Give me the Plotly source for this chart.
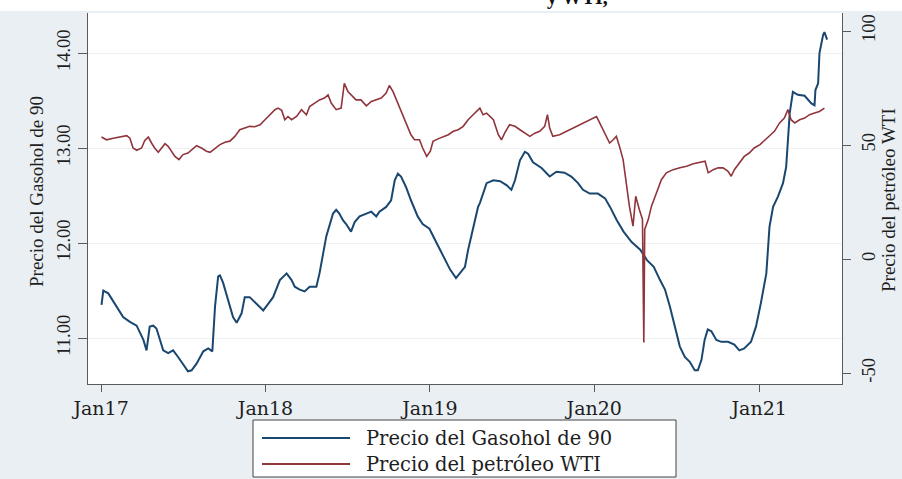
import plotly.graph_objects as go

# Precio del Gasohol de 90 (eje izquierdo)
gas_dates = [
    "2017-01-02", "2017-01-06", "2017-01-17", "2017-02-04", "2017-02-19", "2017-03-06",
    "2017-03-21", "2017-04-05", "2017-04-12", "2017-04-19", "2017-04-27", "2017-05-04",
    "2017-05-12", "2017-05-19", "2017-05-30", "2017-06-10", "2017-06-21", "2017-07-02",
    "2017-07-13", "2017-07-21", "2017-08-01", "2017-08-16", "2017-08-27", "2017-09-05",
    "2017-09-11", "2017-09-18", "2017-09-22", "2017-09-29", "2017-10-10", "2017-10-21",
    "2017-10-29", "2017-11-09", "2017-11-16", "2017-11-27", "2017-12-12", "2017-12-27",
    "2018-01-07", "2018-01-18", "2018-02-02", "2018-02-17", "2018-02-28", "2018-03-07",
    "2018-03-18", "2018-03-29", "2018-04-09", "2018-04-24", "2018-05-01", "2018-05-09",
    "2018-05-16", "2018-05-31", "2018-06-07", "2018-06-14", "2018-06-22", "2018-06-29",
    "2018-07-10", "2018-07-18", "2018-07-29", "2018-08-13", "2018-08-24", "2018-09-04",
    "2018-09-11", "2018-09-26", "2018-10-07", "2018-10-15", "2018-10-22", "2018-10-29",
    "2018-11-09", "2018-11-20", "2018-12-05", "2018-12-16", "2018-12-31", "2019-01-16",
    "2019-01-31", "2019-02-15", "2019-02-28", "2019-03-09", "2019-03-20", "2019-03-27",
    "2019-04-07", "2019-04-18", "2019-04-22", "2019-05-07", "2019-05-22", "2019-06-06",
    "2019-06-20", "2019-07-01", "2019-07-09", "2019-07-20", "2019-07-31", "2019-08-07",
    "2019-08-18", "2019-09-06", "2019-09-24", "2019-10-09", "2019-10-27", "2019-11-11",
    "2019-11-26", "2019-12-07", "2019-12-22", "2020-01-09", "2020-01-25", "2020-02-05",
    "2020-02-20", "2020-03-06", "2020-03-24", "2020-04-12", "2020-04-27", "2020-05-12",
    "2020-05-26", "2020-06-06", "2020-06-17", "2020-06-28", "2020-07-09", "2020-07-20",
    "2020-07-31", "2020-08-11", "2020-08-18", "2020-08-26", "2020-09-02", "2020-09-09",
    "2020-09-17", "2020-09-28", "2020-10-09", "2020-10-24", "2020-11-07", "2020-11-18",
    "2020-11-29", "2020-12-14", "2020-12-25", "2021-01-05", "2021-01-17", "2021-01-24",
    "2021-02-01", "2021-02-12", "2021-02-23", "2021-03-02", "2021-03-10", "2021-03-17",
    "2021-03-28", "2021-04-12", "2021-04-27", "2021-05-04", "2021-05-06", "2021-05-12",
    "2021-05-15", "2021-05-23", "2021-05-26", "2021-06-01",
]
gas_price = [
    11.35, 11.50, 11.47, 11.33, 11.22, 11.17,
    11.13, 10.98, 10.87, 11.12, 11.13, 11.10,
    10.98, 10.87, 10.84, 10.87, 10.80, 10.73,
    10.65, 10.66, 10.73, 10.86, 10.89, 10.86,
    11.33, 11.65, 11.66, 11.58, 11.40, 11.22,
    11.16, 11.26, 11.43, 11.43, 11.36, 11.29,
    11.36, 11.43, 11.61, 11.68, 11.61, 11.54,
    11.51, 11.49, 11.54, 11.54, 11.68, 11.89,
    12.07, 12.31, 12.35, 12.31, 12.24, 12.20,
    12.12, 12.22, 12.28, 12.31, 12.33, 12.28,
    12.33, 12.38, 12.45, 12.66, 12.73, 12.70,
    12.59, 12.45, 12.28, 12.20, 12.15, 12.00,
    11.86, 11.72, 11.63, 11.68, 11.75, 11.93,
    12.14, 12.38, 12.42, 12.63, 12.66, 12.65,
    12.61, 12.56, 12.66, 12.87, 12.96, 12.94,
    12.85, 12.79, 12.70, 12.75, 12.74, 12.70,
    12.63, 12.56, 12.52, 12.52, 12.47, 12.38,
    12.24, 12.12, 12.01, 11.93, 11.82, 11.75,
    11.61, 11.51, 11.33, 11.12, 10.91, 10.80,
    10.75, 10.66, 10.66, 10.77, 10.98, 11.09,
    11.07, 10.98, 10.96, 10.96, 10.93, 10.87,
    10.89, 10.96, 11.12, 11.37, 11.68, 12.17,
    12.38, 12.49, 12.63, 12.80, 13.37, 13.59,
    13.56, 13.55, 13.47, 13.45, 13.61, 13.68,
    14.00, 14.19, 14.22, 14.14,
]

# Precio del petróleo WTI (eje derecho)
wti_dates = [
    "2017-01-02", "2017-01-13", "2017-01-28", "2017-02-12", "2017-02-27", "2017-03-06",
    "2017-03-13", "2017-03-21", "2017-04-01", "2017-04-08", "2017-04-16", "2017-04-23",
    "2017-04-30", "2017-05-08", "2017-05-15", "2017-05-23", "2017-05-30", "2017-06-06",
    "2017-06-14", "2017-06-23", "2017-07-02", "2017-07-13", "2017-07-25", "2017-08-01",
    "2017-08-12", "2017-08-23", "2017-08-31", "2017-09-11", "2017-09-22", "2017-10-03",
    "2017-10-14", "2017-10-25", "2017-11-05", "2017-11-16", "2017-11-27", "2017-12-08",
    "2017-12-20", "2017-12-31", "2018-01-11", "2018-01-22", "2018-01-29", "2018-02-06",
    "2018-02-13", "2018-02-20", "2018-02-28", "2018-03-11", "2018-03-22", "2018-04-02",
    "2018-04-09", "2018-04-20", "2018-05-01", "2018-05-12", "2018-05-20", "2018-05-27",
    "2018-06-07", "2018-06-18", "2018-06-25", "2018-07-03", "2018-07-14", "2018-07-21",
    "2018-08-01", "2018-08-13", "2018-08-24", "2018-09-04", "2018-09-15", "2018-09-26",
    "2018-10-03", "2018-10-11", "2018-10-22", "2018-11-02", "2018-11-13", "2018-11-20",
    "2018-11-28", "2018-12-09", "2018-12-16", "2018-12-25", "2019-01-02", "2019-01-08",
    "2019-01-19", "2019-01-31", "2019-02-11", "2019-02-22", "2019-03-05", "2019-03-16",
    "2019-03-27", "2019-04-07", "2019-04-18", "2019-04-22", "2019-04-29", "2019-05-07",
    "2019-05-22", "2019-06-02", "2019-06-09", "2019-06-16", "2019-06-27", "2019-07-09",
    "2019-07-20", "2019-07-31", "2019-08-11", "2019-08-22", "2019-09-02", "2019-09-13",
    "2019-09-19", "2019-09-24", "2019-10-01", "2019-10-16", "2019-10-31", "2019-11-14",
    "2019-11-29", "2019-12-14", "2019-12-29", "2020-01-06", "2020-01-13", "2020-01-24",
    "2020-02-04", "2020-02-12", "2020-02-19", "2020-02-26", "2020-03-05", "2020-03-12",
    "2020-03-19", "2020-03-27", "2020-04-02", "2020-04-10", "2020-04-17", "2020-04-20",
    "2020-04-22", "2020-04-30", "2020-05-07", "2020-05-18", "2020-05-29", "2020-06-09",
    "2020-06-24", "2020-07-09", "2020-07-24", "2020-08-08", "2020-08-23", "2020-09-03",
    "2020-09-10", "2020-09-21", "2020-10-02", "2020-10-13", "2020-10-24", "2020-10-31",
    "2020-11-07", "2020-11-18", "2020-11-29", "2020-12-10", "2020-12-21", "2021-01-03",
    "2021-01-14", "2021-01-24", "2021-02-04", "2021-02-15", "2021-02-26", "2021-03-06",
    "2021-03-13", "2021-03-21", "2021-04-01", "2021-04-12", "2021-04-23", "2021-05-04",
    "2021-05-15", "2021-05-26",
]
wti_price = [
    53.5, 52.3, 53.0, 53.5, 54.1, 53.0,
    48.7, 47.7, 48.7, 52.0, 53.5, 50.9,
    48.7, 46.8, 48.7, 50.6, 49.4, 47.3,
    45.0, 43.6, 45.8, 46.5, 48.3, 49.7,
    48.7, 47.3, 46.8, 48.7, 50.2, 51.2,
    51.7, 53.8, 56.7, 57.5, 58.2, 58.0,
    58.9, 61.1, 63.3, 65.5, 66.2, 65.2,
    61.1, 62.5, 61.1, 62.5, 65.5, 63.3,
    66.9, 68.4, 69.8, 70.6, 72.0, 68.4,
    65.5, 66.2, 77.1, 73.5, 71.3, 69.8,
    69.8, 67.2, 69.1, 69.8, 70.6, 72.8,
    76.1, 73.5, 68.4, 62.5, 58.2, 54.5,
    52.3, 52.3, 48.7, 45.0, 47.3, 51.6,
    52.7, 53.8, 54.5, 56.0, 56.7, 58.2,
    61.1, 63.3, 65.2, 66.2, 63.3, 64.0,
    61.1, 54.5, 52.3, 55.2, 58.9, 58.2,
    56.7, 55.2, 53.8, 55.2, 56.0, 58.2,
    63.3, 57.5, 53.8, 54.5, 56.0, 57.5,
    58.9, 60.3, 61.8, 62.5, 59.7, 55.2,
    50.9, 52.3, 53.8, 49.4, 43.6, 33.4,
    23.2, 14.4, 27.5, 21.7, 17.4, -36.6,
    13.0, 17.4, 23.2, 29.0, 34.8, 37.8,
    39.2, 40.0, 40.7, 41.8, 42.4, 42.9,
    37.8, 39.2, 40.0, 40.0, 38.5, 36.3,
    39.2, 42.1, 45.0, 46.5, 48.7, 50.2,
    52.3, 53.8, 56.0, 59.6, 61.8, 65.5,
    61.1, 59.7, 61.1, 61.8, 63.3, 64.0,
    64.7, 66.2,
]

# Ejes
x_ticks = ["2017-01-01", "2018-01-01", "2019-01-01", "2020-01-01", "2021-01-01"]
x_labels = ["Jan17", "Jan18", "Jan19", "Jan20", "Jan21"]
gas_ticks = [11, 12, 13, 14]
gas_labels = ["11.00", "12.00", "13.00", "14.00"]
wti_ticks = [-50, 0, 50, 100]
wti_labels = ["-50", "0", "50", "100"]

series_names = ["Precio del Gasohol de 90", "Precio del petróleo WTI"]
series_colors = ["#1a476f", "#90353b"]

SERIF_WIDE = "DejaVu Serif"
SERIF = "Liberation Serif"
INK = "#1e1e1e"
AXIS = "#5a5a5a"

W, H = 902, 479
ML, MR, MT, MB = 88, 60, 13, 95
PW, PH = W - ML - MR, H - MT - MB


def px(x):
    """Horizontal pixel position -> paper fraction."""
    return (x - ML) / PW


def py(y):
    """Vertical pixel position (from top) -> paper fraction."""
    return (H - MB - y) / PH


fig = go.Figure()
fig.add_trace(go.Scatter(
    x=gas_dates, y=gas_price, mode="lines", name=series_names[0],
    line=dict(color=series_colors[0], width=2), showlegend=False,
))
fig.add_trace(go.Scatter(
    x=wti_dates, y=wti_price, mode="lines", name=series_names[1],
    yaxis="y2", line=dict(color=series_colors[1], width=1.6), showlegend=False,
))

# Leyenda en recuadro bajo el gráfico
shapes = [
    dict(type="rect", xref="paper", yref="paper", x0=-0.2, x1=1.2,
         y0=py(11), y1=py(-20), fillcolor="white", line=dict(width=0),
         layer="below"),
    dict(type="rect", xref="paper", yref="paper",
         x0=px(253), x1=px(676), y0=py(477), y1=py(420),
         fillcolor="white", line=dict(color="#444444", width=1)),
]
annotations = [
    dict(text="Precio del Gasohol de 90", textangle=-90,
         xref="paper", yref="paper", x=px(36), y=py(192),
         xanchor="center", yanchor="middle", showarrow=False,
         font=dict(family=SERIF, size=19, color=INK)),
    dict(text="Precio del petróleo WTI", textangle=-90,
         xref="paper", yref="paper", x=px(888), y=py(200),
         xanchor="center", yanchor="middle", showarrow=False,
         font=dict(family=SERIF, size=19, color=INK)),
    dict(text="<b>y WTI,</b>",
         xref="paper", yref="paper", x=px(545), y=py(11),
         xanchor="left", yanchor="bottom", showarrow=False,
         font=dict(family=SERIF, size=20, color="#111111")),
]
for i, (name, color) in enumerate(zip(series_names, series_colors)):
    row_y = 438 + 26 * i
    shapes.append(dict(type="line", xref="paper", yref="paper",
                       x0=px(262), x1=px(350), y0=py(row_y), y1=py(row_y),
                       line=dict(color=color, width=2)))
    annotations.append(dict(text=name, xref="paper", yref="paper",
                            x=px(364), y=py(row_y), xanchor="left",
                            yanchor="middle", showarrow=False,
                            font=dict(family=SERIF_WIDE, size=19.5, color=INK)))

fig.update_layout(
    width=W, height=H,
    margin=dict(l=ML, r=MR, t=MT, b=MB),
    paper_bgcolor="#e9eff3",
    plot_bgcolor="white",
    showlegend=False,
    xaxis=dict(
        range=["2016-12-03", "2021-07-04"],
        tickvals=x_ticks, ticktext=x_labels,
        ticks="outside", ticklen=7, tickcolor=AXIS, tickwidth=1.2,
        showline=True, linecolor=AXIS, linewidth=1.3,
        showgrid=False, zeroline=False,
        tickfont=dict(family=SERIF_WIDE, size=19, color=INK),
        ticklabelstandoff=0,
    ),
    yaxis=dict(
        range=[10.516, 14.421],
        tickvals=gas_ticks, ticktext=gas_labels, tickangle=-90,
        ticks="outside", ticklen=9, tickcolor=AXIS, tickwidth=1.2,
        showline=True, linecolor=AXIS, linewidth=1.3,
        showgrid=True, gridcolor="#edf1f4", gridwidth=1, zeroline=False,
        tickfont=dict(family=SERIF, size=18.5, color=INK),
        ticklabelstandoff=0,
    ),
    yaxis2=dict(
        range=[-54.8, 107.9], overlaying="y", side="right",
        tickvals=wti_ticks, ticktext=wti_labels, tickangle=-90,
        ticks="outside", ticklen=8, tickcolor=AXIS, tickwidth=1.2,
        showline=True, linecolor=AXIS, linewidth=1.3,
        showgrid=False, zeroline=False,
        tickfont=dict(family=SERIF, size=18.5, color=INK),
        ticklabelstandoff=2,
    ),
    shapes=shapes,
    annotations=annotations,
)

fig.write_html("out.html")
